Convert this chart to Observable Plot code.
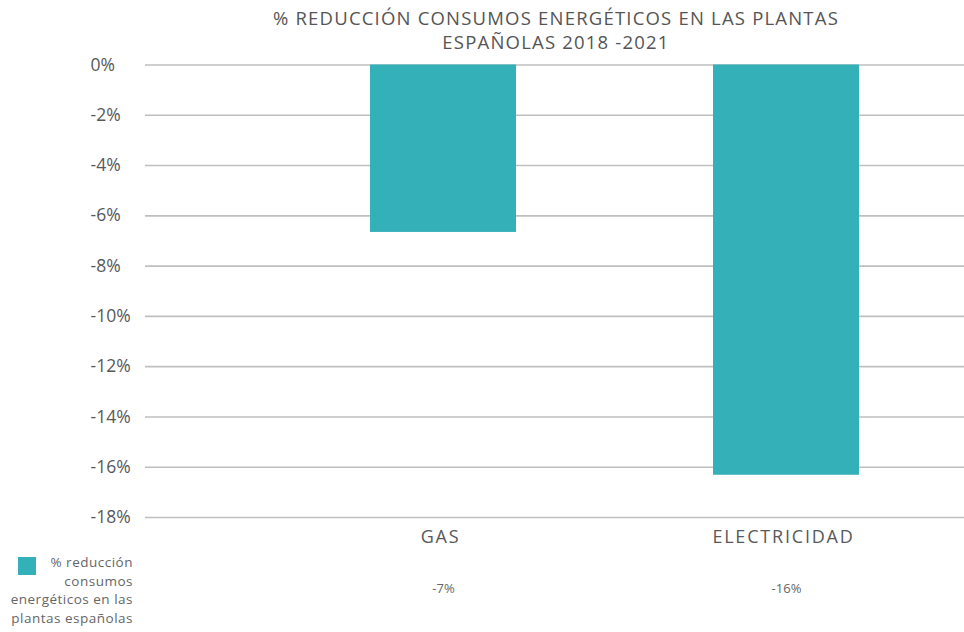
<!DOCTYPE html>
<html>
<head>
<meta charset="utf-8">
<script src="https://cdn.jsdelivr.net/npm/d3@7"></script>
<script src="https://cdn.jsdelivr.net/npm/@observablehq/plot@0.6"></script>
<style>
  body { margin: 0; background: #fff; font-family: "Open Sans", Lato, sans-serif; }
  #wrap { position: relative; width: 964px; height: 632px; }
  #title { position: absolute; left: 156px; width: 800px; top: 6px; text-align: center;
           font-size: 18.5px; line-height: 24px; color: #555; font-family: "Open Sans", sans-serif; letter-spacing: 1.2px; }
  #legend { position: absolute; left: 0; top: 553px; width: 135px; }
  #legend .sw { position: absolute; left: 18px; top: 4px; width: 18px; height: 18px; background: #33B0B8; }
  #legend .tx { position: absolute; right: 2px; top: 0; text-align: right; font-size: 13.5px; line-height: 18.5px; color: #666; letter-spacing: 0.5px; }
  svg { position: absolute; left: 0; top: 0; }
  svg g[aria-label="x-axis tick label"] text { letter-spacing: 1.8px; }
</style>
</head>
<body>
<div id="wrap">
  <div id="title">% REDUCCIÓN CONSUMOS ENERGÉTICOS EN LAS PLANTAS<br>ESPAÑOLAS 2018 -2021</div>
  <div id="legend"><div class="sw"></div><div class="tx">% reducción<br>consumos<br>energéticos en las<br>plantas españolas</div></div>
</div>
<script>
const categories = ["GAS", "ELECTRICIDAD"];
const values = [-6.66, -16.32];
const yTicks = [0, -2, -4, -6, -8, -10, -12, -14, -16, -18];
const tableLabels = ["-7%", "-16%"];

const data = categories.map((c, i) => ({cat: c, value: values[i], label: tableLabels[i]}));

const chart = Plot.plot({
  width: 964,
  height: 632,
  marginTop: 64.5,
  marginBottom: 115,
  marginLeft: 145,
  marginRight: 0,
  style: {fontFamily: "'Open Sans', Lato, sans-serif", color: "#595959", background: "transparent"},
  x: {domain: categories, range: [271, 957], paddingInner: 0.575, paddingOuter: 0.2875, label: null},
  y: {domain: [-18, 0], label: null},
  marks: [
    Plot.ruleY(yTicks, {stroke: "#bfbfbf", strokeWidth: 1.6}),
    Plot.barY(data, {x: "cat", y1: 0, y2: "value", fill: "#33B0B8"}),
    Plot.axisY(yTicks, {tickSize: 0, tickPadding: 55, textAnchor: "start", fontSize: 17.5, tickFormat: d => d + "%", fill: "#595959"}),
    Plot.axisX({tickSize: 0, tickPadding: 13, fontSize: 18, fill: "#595959", dx: -3}),
    Plot.text(data, {x: "cat", text: "label", frameAnchor: "bottom", dy: 75, fontSize: 13, fill: "#666"})
  ]
});
document.getElementById("wrap").appendChild(chart);
</script>
</body>
</html>
